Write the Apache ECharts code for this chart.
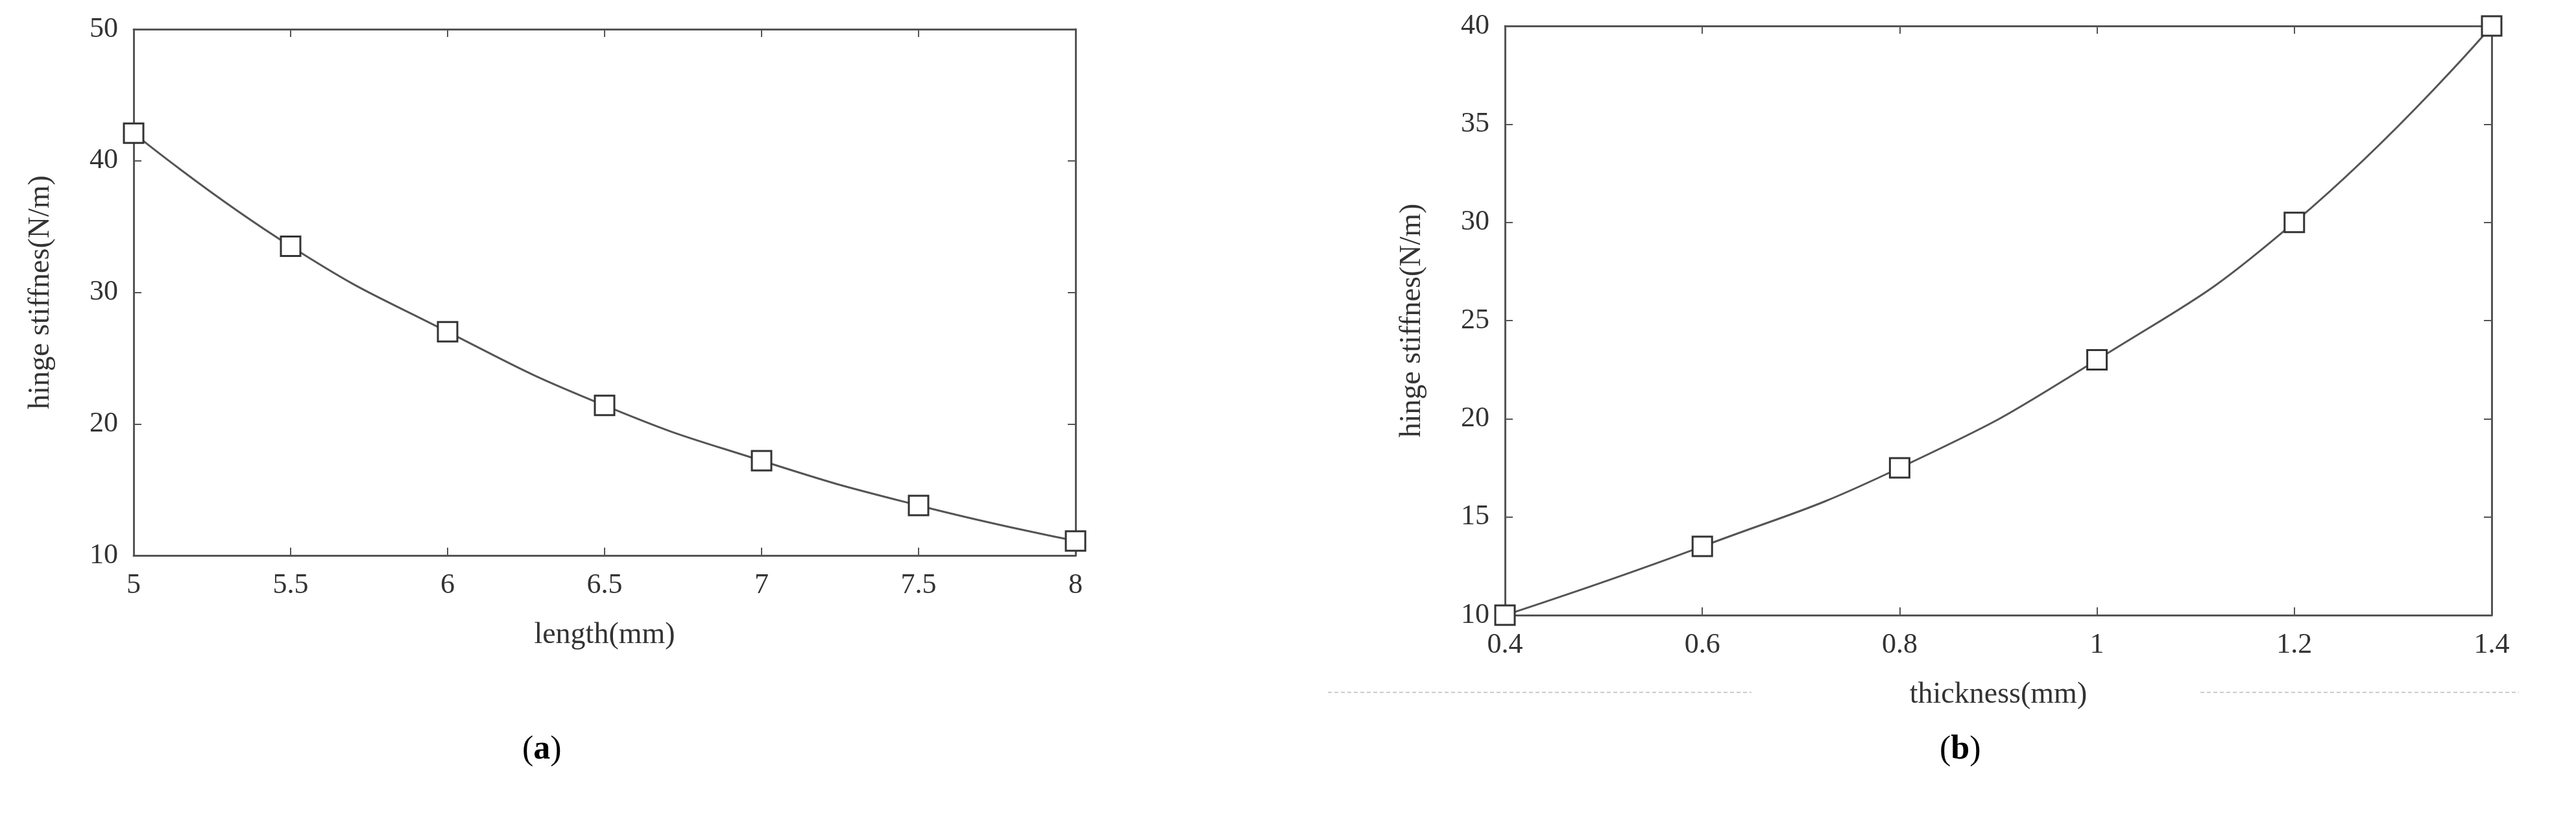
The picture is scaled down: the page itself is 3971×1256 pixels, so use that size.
<!DOCTYPE html>
<html>
<head>
<meta charset="UTF-8">
<title>hinge stiffness</title>
<script src="https://cdn.jsdelivr.net/npm/echarts@6/dist/echarts.min.js"></script>
<style>html,body{margin:0;background:#fff}</style>
</head>
<body>
<div id="main" style="width:3971px;height:1256px;"></div>
<script>
// (a) length vs stiffness
var lengthX = [5, 5.5, 6, 6.5, 7, 7.5, 8];
var lengthY = [42.1, 33.5, 27.0, 21.4, 17.2, 13.8, 11.1];
// (b) thickness vs stiffness
var thickX = [0.4, 0.6, 0.8, 1.0, 1.2, 1.4];
var thickY = [10, 13.5, 17.5, 23, 30, 40];

var font = 'Liberation Serif';
var ink = '#333';

function pairs(xs, ys) {
    var out = [];
    for (var i = 0; i < xs.length; i++) out.push([xs[i], ys[i]]);
    return out;
}

function xAxisFor(idx, min, max, step, name, pos) {
    return {
        type: 'value', gridIndex: idx, min: min, max: max, interval: step,
        position: pos, name: pos === 'bottom' ? name : '',
        nameLocation: 'middle', nameGap: 100,
        nameTextStyle: {fontFamily: font, fontSize: 46, color: ink},
        axisLine: {lineStyle: {color: '#555', width: 3}},
        axisTick: {show: true, inside: true, length: 12, lineStyle: {color: '#555', width: 2}},
        axisLabel: {show: pos === 'bottom', fontFamily: font, fontSize: 44, color: ink, margin: 24},
        splitLine: {show: false}
    };
}
function yAxisFor(idx, min, max, step, name, pos) {
    return {
        type: 'value', gridIndex: idx, min: min, max: max, interval: step,
        position: pos, name: pos === 'left' ? name : '',
        nameLocation: 'middle', nameGap: 120,
        nameTextStyle: {fontFamily: font, fontSize: 46, color: ink},
        axisLine: {show: true, lineStyle: {color: '#555', width: 3}},
        axisTick: {show: true, inside: true, length: 12, lineStyle: {color: '#555', width: 2}},
        axisLabel: {show: pos === 'left', fontFamily: font, fontSize: 44, color: ink, margin: 24},
        splitLine: {show: false}
    };
}
function seriesFor(idx, data) {
    return {
        type: 'line', xAxisIndex: idx * 2, yAxisIndex: idx * 2, data: data,
        smooth: true, symbol: 'rect', symbolSize: 30,
        lineStyle: {color: '#555', width: 3},
        itemStyle: {color: '#fff', borderColor: '#333', borderWidth: 3}
    };
}

var chart = echarts.init(document.getElementById('main'));
chart.setOption({
    backgroundColor: '#fff',
    animation: false,
    grid: [
        {left: 206, top: 45, width: 1452, height: 811},
        {left: 2320, top: 40, width: 1521, height: 908}
    ],
    xAxis: [
        xAxisFor(0, 5, 8, 0.5, 'length(mm)', 'bottom'),
        xAxisFor(0, 5, 8, 0.5, '', 'top'),
        xAxisFor(1, 0.4, 1.4, 0.2, 'thickness(mm)', 'bottom'),
        xAxisFor(1, 0.4, 1.4, 0.2, '', 'top')
    ],
    yAxis: [
        yAxisFor(0, 10, 50, 10, 'hinge stiffnes(N/m)', 'left'),
        yAxisFor(0, 10, 50, 10, '', 'right'),
        yAxisFor(1, 10, 40, 5, 'hinge stiffnes(N/m)', 'left'),
        yAxisFor(1, 10, 40, 5, '', 'right')
    ],
    series: [
        seriesFor(0, pairs(lengthX, lengthY)),
        seriesFor(1, pairs(thickX, thickY))
    ],
    graphic: [
        {type: 'text', left: 805, top: 1130, style: {text: '({b|a})', font: '52px "Liberation Serif"', fill: '#000',
            rich: {b: {fontWeight: 'bold', fontSize: 52, fontFamily: font}}}},
        {type: 'text', left: 2990, top: 1130, style: {text: '({b|b})', font: '52px "Liberation Serif"', fill: '#000',
            rich: {b: {fontWeight: 'bold', fontSize: 52, fontFamily: font}}}},
        {type: 'line', shape: {x1: 2047, y1: 1067, x2: 2700, y2: 1067}, style: {stroke: '#ccc', lineWidth: 2, lineDash: [6, 4]}},
        {type: 'line', shape: {x1: 3392, y1: 1067, x2: 3883, y2: 1067}, style: {stroke: '#ccc', lineWidth: 2, lineDash: [6, 4]}}
    ]
});
</script>
</body>
</html>
